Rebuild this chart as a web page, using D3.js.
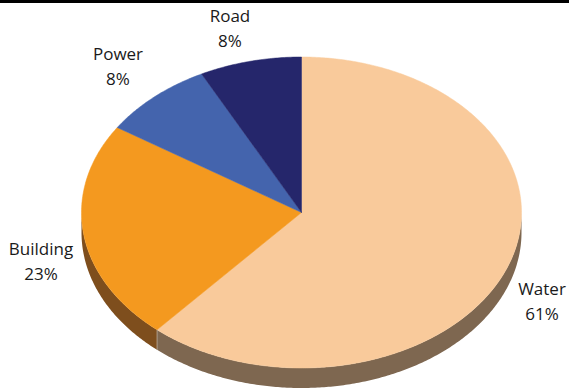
<!DOCTYPE html>
<html><head><meta charset="utf-8">
<script src="https://cdn.jsdelivr.net/npm/d3@7"></script>
<style>body{margin:0;background:#fff}svg{display:block}</style>
</head><body>
<svg id="c" width="569" height="392"></svg>
<script>
const categories = ["Water", "Building", "Power", "Road"];
const values = [61.4, 22.8, 8.3, 7.5];
const labels = ["61%", "23%", "8%", "8%"];
const topColors = ["#f9ca9b", "#f4991f", "#4464ad", "#25266b"];
const sideColors = ["#7e6750", "#7e4e1d", "#2e4475", "#18194a"];
const labelPos = [[542, 288], [41, 248], [118, 53], [230, 15]];

const svg = d3.select("#c");
const W = 569, H = 392;
svg.append("rect").attr("x", 0).attr("y", 0).attr("width", W).attr("height", 3).attr("fill", "#000");

const cx = 301.5, cy = 212.5, rx = 220, ry = 155.5, depth = 20;
const pie = d3.pie().sort(null).value(d => d)(values);

function pt(a, dy) { return [cx + rx * Math.sin(a), cy - ry * Math.cos(a) + (dy || 0)]; }
function arcPts(a0, a1, dy) {
  const n = Math.max(2, Math.ceil(Math.abs(a1 - a0) / 0.01));
  const out = [];
  for (let i = 0; i <= n; i++) out.push(pt(a0 + (a1 - a0) * i / n, dy));
  return out;
}
const line = d3.line();

const g = svg.append("g");
pie.forEach((s, i) => {
  const a0 = Math.max(s.startAngle, Math.PI / 2), a1 = Math.min(s.endAngle, 3 * Math.PI / 2);
  if (a1 <= a0) return;
  const top = arcPts(a0, a1, 0), bot = arcPts(a1, a0, depth);
  g.append("path").attr("d", line(top.concat(bot)) + "Z").attr("fill", sideColors[i]);
});
pie.forEach((s, i) => {
  const pts = [[cx, cy]].concat(arcPts(s.startAngle, s.endAngle, 0));
  g.append("path").attr("d", line(pts) + "Z").attr("fill", topColors[i])
    .attr("stroke", topColors[i]).attr("stroke-width", 0.5);
});
pie.forEach((s, i) => {
  const a = s.endAngle;
  if (a > Math.PI / 2 && a < 3 * Math.PI / 2) {
    const p = pt(a, 0);
    g.append("line").attr("x1", p[0]).attr("y1", p[1]).attr("x2", p[0]).attr("y2", p[1] + depth)
      .attr("stroke", "#b8a898").attr("stroke-width", 0.8);
  }
});

pie.forEach((s, i) => {
  const t = svg.append("text").attr("text-anchor", "middle")
    .attr("font-family", "'Open Sans', sans-serif").attr("font-size", 17).attr("fill", "#1a1a1a");
  t.append("tspan").attr("x", labelPos[i][0]).attr("y", labelPos[i][1] + 7).text(categories[i]);
  t.append("tspan").attr("x", labelPos[i][0]).attr("y", labelPos[i][1] + 32).text(labels[i]);
});
</script>
</body></html>
